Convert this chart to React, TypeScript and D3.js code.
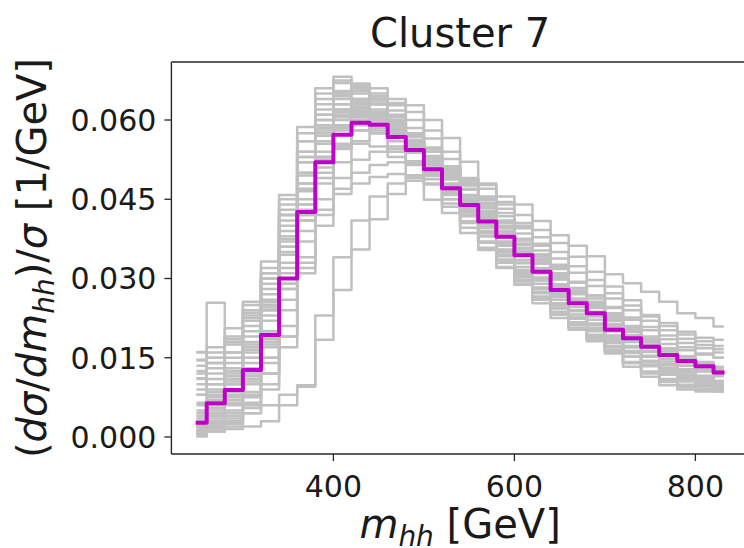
import React from "react";
import * as d3 from "d3";

// bin centres [GeV]
const massBins = [250, 270, 290, 310, 330, 350, 370, 390, 410, 430, 450, 470, 490, 510, 530, 550, 570, 590, 610, 630, 650, 670, 690, 710, 730, 750, 770, 790, 810, 830];

// cluster centroid (magenta)
const centroid = [0.0027, 0.0064, 0.0089, 0.0127, 0.0193, 0.0300, 0.0426, 0.0520, 0.0572, 0.0595, 0.0591, 0.0568, 0.0543, 0.0507, 0.0471, 0.0439, 0.0408, 0.0379, 0.0344, 0.0313, 0.0278, 0.0253, 0.0234, 0.0203, 0.0187, 0.0171, 0.0155, 0.0144, 0.0134, 0.0122];

// cluster members (grey)
const memberA = [0.0005, 0.0010, 0.0015, 0.0020, 0.0030, 0.0060, 0.0098, 0.0184, 0.0278, 0.0355, 0.0412, 0.0460, 0.0485, 0.0495, 0.0493, 0.0487, 0.0477, 0.0455, 0.0440, 0.0409, 0.0382, 0.0362, 0.0342, 0.0308, 0.0291, 0.0275, 0.0256, 0.0234, 0.0225, 0.0209];
const memberB = [0.0010, 0.0020, 0.0030, 0.0045, 0.0060, 0.0080, 0.0095, 0.0230, 0.0340, 0.0410, 0.0455, 0.0480, 0.0495, 0.0500, 0.0495, 0.0483, 0.0470, 0.0445, 0.0420, 0.0392, 0.0367, 0.0341, 0.0313, 0.0285, 0.0259, 0.0231, 0.0216, 0.0199, 0.0188, 0.0184];
const memberC = [0.0020, 0.0030, 0.0050, 0.0075, 0.0120, 0.0190, 0.0310, 0.0400, 0.0460, 0.0480, 0.0492, 0.0498, 0.0495, 0.0488, 0.0472, 0.0450, 0.0425, 0.0396, 0.0366, 0.0336, 0.0308, 0.0282, 0.0256, 0.0233, 0.0210, 0.0190, 0.0176, 0.0164, 0.0156, 0.0150];
const memberD = [0.0030, 0.0060, 0.0100, 0.0140, 0.0220, 0.0330, 0.0450, 0.0540, 0.0590, 0.0605, 0.0595, 0.0570, 0.0540, 0.0505, 0.0470, 0.0435, 0.0400, 0.0368, 0.0335, 0.0302, 0.0272, 0.0246, 0.0222, 0.0200, 0.0180, 0.0163, 0.0148, 0.0135, 0.0124, 0.0115];
const memberE = [0.0080, 0.0110, 0.0130, 0.0180, 0.0260, 0.0380, 0.0500, 0.0590, 0.0630, 0.0635, 0.0610, 0.0578, 0.0542, 0.0500, 0.0458, 0.0418, 0.0380, 0.0345, 0.0312, 0.0280, 0.0250, 0.0224, 0.0200, 0.0178, 0.0160, 0.0144, 0.0130, 0.0118, 0.0108, 0.0100];
const memberF = [0.0110, 0.0140, 0.0160, 0.0210, 0.0290, 0.0420, 0.0540, 0.0620, 0.0655, 0.0650, 0.0620, 0.0580, 0.0538, 0.0494, 0.0450, 0.0408, 0.0368, 0.0332, 0.0298, 0.0266, 0.0237, 0.0212, 0.0190, 0.0170, 0.0152, 0.0136, 0.0122, 0.0110, 0.0100, 0.0092];
const memberT = [0.0160, 0.0170, 0.0206, 0.0250, 0.0332, 0.0458, 0.0587, 0.0660, 0.0682, 0.0669, 0.0640, 0.0600, 0.0560, 0.0515, 0.0470, 0.0425, 0.0385, 0.0345, 0.0310, 0.0275, 0.0245, 0.0215, 0.0190, 0.0165, 0.0140, 0.0120, 0.0104, 0.0094, 0.0088, 0.0086];
const memberT2 = [0.0040, 0.0070, 0.0100, 0.0150, 0.0240, 0.0360, 0.0480, 0.0580, 0.0640, 0.0665, 0.0660, 0.0632, 0.0615, 0.0580, 0.0540, 0.0490, 0.0440, 0.0395, 0.0350, 0.0310, 0.0272, 0.0240, 0.0212, 0.0185, 0.0162, 0.0142, 0.0125, 0.0110, 0.0098, 0.0090];
const memberG = [0.0001, 0.0010, 0.0020, 0.0060, 0.0150, 0.0280, 0.0420, 0.0520, 0.0580, 0.0610, 0.0610, 0.0590, 0.0560, 0.0525, 0.0490, 0.0455, 0.0420, 0.0385, 0.0350, 0.0318, 0.0288, 0.0260, 0.0236, 0.0212, 0.0192, 0.0172, 0.0155, 0.0140, 0.0128, 0.0118];
const memberH = [0.0045, 0.0080, 0.0110, 0.0160, 0.0240, 0.0350, 0.0470, 0.0560, 0.0610, 0.0625, 0.0615, 0.0590, 0.0556, 0.0518, 0.0478, 0.0440, 0.0402, 0.0365, 0.0330, 0.0296, 0.0265, 0.0238, 0.0213, 0.0190, 0.0170, 0.0152, 0.0136, 0.0122, 0.0110, 0.0100];
const memberI = [0.0029, 0.0045, 0.0070, 0.0110, 0.0180, 0.0290, 0.0410, 0.0500, 0.0555, 0.0580, 0.0585, 0.0575, 0.0555, 0.0530, 0.0500, 0.0468, 0.0433, 0.0398, 0.0364, 0.0330, 0.0298, 0.0270, 0.0244, 0.0220, 0.0199, 0.0180, 0.0163, 0.0148, 0.0136, 0.0126];
const memberJ = [0.0161, 0.0120, 0.0150, 0.0200, 0.0270, 0.0390, 0.0520, 0.0600, 0.0645, 0.0655, 0.0635, 0.0600, 0.0560, 0.0515, 0.0470, 0.0428, 0.0388, 0.0350, 0.0315, 0.0282, 0.0252, 0.0226, 0.0202, 0.0180, 0.0160, 0.0143, 0.0128, 0.0115, 0.0104, 0.0095];
const memberS = [0.0146, 0.0254, 0.0180, 0.0256, 0.0310, 0.0430, 0.0560, 0.0640, 0.0670, 0.0660, 0.0630, 0.0592, 0.0550, 0.0506, 0.0462, 0.0420, 0.0380, 0.0342, 0.0306, 0.0274, 0.0244, 0.0217, 0.0193, 0.0171, 0.0152, 0.0136, 0.0121, 0.0109, 0.0098, 0.0090];
const memberK = [0.0111, 0.0090, 0.0120, 0.0170, 0.0250, 0.0360, 0.0480, 0.0570, 0.0620, 0.0640, 0.0630, 0.0605, 0.0570, 0.0530, 0.0488, 0.0447, 0.0407, 0.0370, 0.0335, 0.0300, 0.0268, 0.0240, 0.0214, 0.0190, 0.0170, 0.0152, 0.0136, 0.0123, 0.0112, 0.0103];
const memberL = [0.0060, 0.0040, 0.0090, 0.0130, 0.0200, 0.0310, 0.0440, 0.0530, 0.0585, 0.0600, 0.0600, 0.0585, 0.0560, 0.0528, 0.0493, 0.0458, 0.0422, 0.0387, 0.0352, 0.0320, 0.0289, 0.0262, 0.0237, 0.0214, 0.0193, 0.0175, 0.0158, 0.0143, 0.0131, 0.0120];
const memberN = [0.0010, 0.0025, 0.0040, 0.0080, 0.0140, 0.0240, 0.0370, 0.0480, 0.0550, 0.0590, 0.0600, 0.0595, 0.0575, 0.0545, 0.0512, 0.0478, 0.0443, 0.0408, 0.0372, 0.0338, 0.0305, 0.0276, 0.0250, 0.0225, 0.0203, 0.0183, 0.0166, 0.0151, 0.0138, 0.0128];
const memberO = [0.0090, 0.0150, 0.0140, 0.0190, 0.0280, 0.0400, 0.0530, 0.0610, 0.0650, 0.0660, 0.0645, 0.0610, 0.0568, 0.0523, 0.0476, 0.0432, 0.0390, 0.0352, 0.0316, 0.0283, 0.0253, 0.0226, 0.0201, 0.0179, 0.0159, 0.0141, 0.0126, 0.0113, 0.0102, 0.0093];
const memberP = [0.0020, 0.0055, 0.0080, 0.0120, 0.0190, 0.0300, 0.0430, 0.0530, 0.0590, 0.0615, 0.0605, 0.0580, 0.0550, 0.0515, 0.0480, 0.0446, 0.0412, 0.0378, 0.0345, 0.0313, 0.0283, 0.0256, 0.0231, 0.0208, 0.0188, 0.0170, 0.0154, 0.0140, 0.0128, 0.0118];
const memberQ1 = [0.0125, 0.0140, 0.0175, 0.0230, 0.0310, 0.0440, 0.0560, 0.0630, 0.0650, 0.0635, 0.0600, 0.0560, 0.0520, 0.0478, 0.0436, 0.0396, 0.0358, 0.0322, 0.0290, 0.0260, 0.0232, 0.0207, 0.0186, 0.0162, 0.0142, 0.0124, 0.0110, 0.0099, 0.0092, 0.0088];
const memberQ2 = [0.0100, 0.0130, 0.0160, 0.0220, 0.0300, 0.0420, 0.0530, 0.0590, 0.0610, 0.0600, 0.0580, 0.0550, 0.0515, 0.0480, 0.0442, 0.0405, 0.0370, 0.0336, 0.0303, 0.0272, 0.0243, 0.0217, 0.0193, 0.0172, 0.0152, 0.0134, 0.0118, 0.0105, 0.0096, 0.0090];
const memberQ3 = [0.0050, 0.0085, 0.0115, 0.0165, 0.0245, 0.0370, 0.0500, 0.0600, 0.0650, 0.0660, 0.0645, 0.0618, 0.0585, 0.0548, 0.0508, 0.0468, 0.0428, 0.0390, 0.0353, 0.0318, 0.0285, 0.0255, 0.0228, 0.0203, 0.0181, 0.0161, 0.0143, 0.0128, 0.0116, 0.0106];
const memberQ4 = [0.0015, 0.0035, 0.0060, 0.0100, 0.0170, 0.0280, 0.0410, 0.0520, 0.0590, 0.0630, 0.0640, 0.0628, 0.0600, 0.0565, 0.0526, 0.0487, 0.0448, 0.0410, 0.0375, 0.0342, 0.0310, 0.0281, 0.0254, 0.0229, 0.0206, 0.0186, 0.0168, 0.0152, 0.0140, 0.0130];
const memberQ5 = [0.0008, 0.0020, 0.0035, 0.0065, 0.0120, 0.0210, 0.0340, 0.0450, 0.0520, 0.0560, 0.0575, 0.0575, 0.0562, 0.0540, 0.0512, 0.0482, 0.0450, 0.0418, 0.0385, 0.0353, 0.0322, 0.0294, 0.0268, 0.0244, 0.0222, 0.0202, 0.0185, 0.0170, 0.0158, 0.0150];
const memberQ6 = [0.0003, 0.0012, 0.0025, 0.0045, 0.0090, 0.0170, 0.0320, 0.0430, 0.0490, 0.0525, 0.0540, 0.0545, 0.0540, 0.0525, 0.0505, 0.0480, 0.0452, 0.0424, 0.0395, 0.0366, 0.0338, 0.0311, 0.0286, 0.0262, 0.0240, 0.0220, 0.0202, 0.0186, 0.0174, 0.0166];
const memberQ7 = [0.0035, 0.0055, 0.0085, 0.0125, 0.0200, 0.0320, 0.0440, 0.0510, 0.0545, 0.0555, 0.0550, 0.0540, 0.0522, 0.0498, 0.0472, 0.0445, 0.0417, 0.0388, 0.0358, 0.0328, 0.0299, 0.0272, 0.0247, 0.0224, 0.0203, 0.0184, 0.0167, 0.0153, 0.0142, 0.0133];
const memberQ8 = [0.0135, 0.0100, 0.0190, 0.0240, 0.0320, 0.0450, 0.0575, 0.0650, 0.0675, 0.0665, 0.0630, 0.0585, 0.0540, 0.0495, 0.0450, 0.0408, 0.0368, 0.0330, 0.0295, 0.0262, 0.0232, 0.0205, 0.0181, 0.0160, 0.0140, 0.0122, 0.0107, 0.0096, 0.0089, 0.0087];
const memberQ9 = [0.0065, 0.0075, 0.0105, 0.0150, 0.0230, 0.0345, 0.0465, 0.0555, 0.0605, 0.0620, 0.0612, 0.0590, 0.0560, 0.0525, 0.0488, 0.0451, 0.0415, 0.0380, 0.0346, 0.0314, 0.0284, 0.0257, 0.0232, 0.0209, 0.0189, 0.0170, 0.0154, 0.0140, 0.0129, 0.0119];
const memberQ10 = [0.0012, 0.0028, 0.0045, 0.0085, 0.0150, 0.0260, 0.0390, 0.0490, 0.0550, 0.0580, 0.0590, 0.0580, 0.0560, 0.0532, 0.0500, 0.0468, 0.0436, 0.0405, 0.0375, 0.0346, 0.0318, 0.0292, 0.0268, 0.0246, 0.0226, 0.0208, 0.0192, 0.0178, 0.0168, 0.0160];
const memberQ11 = [0.0145, 0.0160, 0.0185, 0.0235, 0.0300, 0.0410, 0.0520, 0.0585, 0.0620, 0.0625, 0.0605, 0.0575, 0.0540, 0.0502, 0.0464, 0.0426, 0.0390, 0.0355, 0.0322, 0.0290, 0.0260, 0.0232, 0.0207, 0.0184, 0.0163, 0.0144, 0.0128, 0.0115, 0.0104, 0.0096];
const memberQ12 = [0.0006, 0.0016, 0.0028, 0.0055, 0.0100, 0.0190, 0.0330, 0.0420, 0.0470, 0.0500, 0.0515, 0.0520, 0.0518, 0.0510, 0.0495, 0.0476, 0.0455, 0.0432, 0.0405, 0.0378, 0.0350, 0.0323, 0.0297, 0.0272, 0.0249, 0.0228, 0.0210, 0.0194, 0.0181, 0.0172];
const memberQ13 = [0.0080, 0.0100, 0.0125, 0.0175, 0.0255, 0.0375, 0.0495, 0.0575, 0.0615, 0.0620, 0.0600, 0.0572, 0.0540, 0.0505, 0.0468, 0.0432, 0.0396, 0.0362, 0.0329, 0.0297, 0.0267, 0.0240, 0.0215, 0.0192, 0.0172, 0.0154, 0.0138, 0.0125, 0.0114, 0.0106];
const memberQ14 = [0.0025, 0.0050, 0.0075, 0.0115, 0.0185, 0.0300, 0.0425, 0.0525, 0.0585, 0.0610, 0.0612, 0.0598, 0.0572, 0.0540, 0.0505, 0.0470, 0.0435, 0.0400, 0.0366, 0.0333, 0.0302, 0.0273, 0.0247, 0.0223, 0.0201, 0.0181, 0.0164, 0.0149, 0.0137, 0.0127];
const memberQ15 = [0.0020, 0.0040, 0.0065, 0.0105, 0.0175, 0.0290, 0.0420, 0.0530, 0.0600, 0.0640, 0.0650, 0.0640, 0.0628, 0.0600, 0.0566, 0.0521, 0.0480, 0.0440, 0.0400, 0.0362, 0.0326, 0.0293, 0.0262, 0.0234, 0.0209, 0.0186, 0.0166, 0.0149, 0.0135, 0.0124];
const memberQ16 = [0.0120, 0.0150, 0.0180, 0.0225, 0.0300, 0.0420, 0.0540, 0.0610, 0.0630, 0.0612, 0.0575, 0.0530, 0.0490, 0.0449, 0.0424, 0.0386, 0.0354, 0.0320, 0.0288, 0.0253, 0.0225, 0.0203, 0.0184, 0.0158, 0.0133, 0.0114, 0.0098, 0.0090, 0.0086, 0.0086];

const members = [
  memberA, memberB, memberC, memberD, memberE, memberF, memberT, memberT2, memberG,
  memberH, memberI, memberJ, memberS, memberK, memberL, memberN, memberO, memberP,
  memberQ1, memberQ2, memberQ3, memberQ4, memberQ5, memberQ6, memberQ7, memberQ8,
  memberQ9, memberQ10, memberQ11, memberQ12, memberQ13, memberQ14, memberQ15, memberQ16,
];

const xTicks = [400, 600, 800];
const yTicks = [0.0, 0.015, 0.03, 0.045, 0.06];
const titleText = "Cluster 7";

const W = 744;
const H = 548;
const FONT = "DejaVu Sans, sans-serif";

export default function App() {
  const left = 171.4, right = 748.8, top = 62, bottom = 454;
  const x = d3.scaleLinear().domain([221, 859]).range([left, right]);
  const y = d3.scaleLinear().domain([-0.00322, 0.07098]).range([bottom, top]);

  const line = d3
    .line<number>()
    .x((_, i) => x(massBins[i]))
    .y((d) => y(d))
    .curve(d3.curveStep);

  const fmt = d3.format(".3f");
  const axisColor = "#262626";

  return (
    <svg
      width={W}
      height={H}
      style={{ position: "absolute", left: 0, top: 0, background: "#fff" }}
      fontFamily={FONT}
    >
      <rect x={0} y={0} width={W} height={H} fill="#fff" />
      <defs>
        <clipPath id="plotArea">
          <rect x={left} y={top} width={right - left} height={bottom - top} />
        </clipPath>
      </defs>
      <g clipPath="url(#plotArea)">
        {members.map((s, k) => (
          <path
            key={k}
            d={line(s) || ""}
            fill="none"
            stroke="#c0c0c0"
            strokeWidth={2.5}
            strokeLinejoin="round"
            strokeLinecap="square"
          />
        ))}
        <path
          d={line(centroid) || ""}
          fill="none"
          stroke="#c000c8"
          strokeWidth={4}
          strokeLinejoin="round"
          strokeLinecap="square"
        />
      </g>

      {/* spines */}
      <line x1={left} x2={left} y1={top} y2={bottom} stroke={axisColor} strokeWidth={1.4} />
      <line x1={left} x2={right} y1={bottom} y2={bottom} stroke={axisColor} strokeWidth={1.4} />
      <line x1={left} x2={right} y1={top} y2={top} stroke={axisColor} strokeWidth={1.4} />
      <line x1={right} x2={right} y1={top} y2={bottom} stroke={axisColor} strokeWidth={1.4} />

      {/* y ticks */}
      {yTicks.map((t) => (
        <g key={t}>
          <line x1={left - 7} x2={left} y1={y(t)} y2={y(t)} stroke={axisColor} strokeWidth={1.3} />
          <text x={left - 15} y={y(t)} dy="0.36em" textAnchor="end" fontSize={30} fill="#1a1a1a">
            {fmt(t)}
          </text>
        </g>
      ))}

      {/* x ticks */}
      {xTicks.map((t) => (
        <g key={t}>
          <line x1={x(t)} x2={x(t)} y1={bottom} y2={bottom + 7} stroke={axisColor} strokeWidth={1.3} />
          <text x={x(t)} y={497} textAnchor="middle" fontSize={30} fill="#1a1a1a">
            {t}
          </text>
        </g>
      ))}

      {/* title */}
      <text x={(left + right) / 2} y={47} textAnchor="middle" fontSize={40} fill="#1a1a1a">
        {titleText}
      </text>

      {/* x label */}
      <text x={(left + right) / 2} y={538} textAnchor="middle" fontSize={40} fill="#1a1a1a">
        <tspan fontStyle="italic">m</tspan>
        <tspan fontStyle="italic" fontSize={28} dy={8}>hh</tspan>
        <tspan dy={-8}> [GeV]</tspan>
      </text>

      {/* y label */}
      <text
        transform={`translate(46,${(top + bottom) / 2}) rotate(-90)`}
        textAnchor="middle"
        fontSize={40}
        fill="#1a1a1a"
      >
        <tspan>(</tspan>
        <tspan fontStyle="italic">dσ</tspan>
        <tspan>/</tspan>
        <tspan fontStyle="italic">dm</tspan>
        <tspan fontStyle="italic" fontSize={28} dy={8}>hh</tspan>
        <tspan dy={-8}>)/</tspan>
        <tspan fontStyle="italic">σ</tspan>
        <tspan> [1/GeV]</tspan>
      </text>
    </svg>
  );
}
